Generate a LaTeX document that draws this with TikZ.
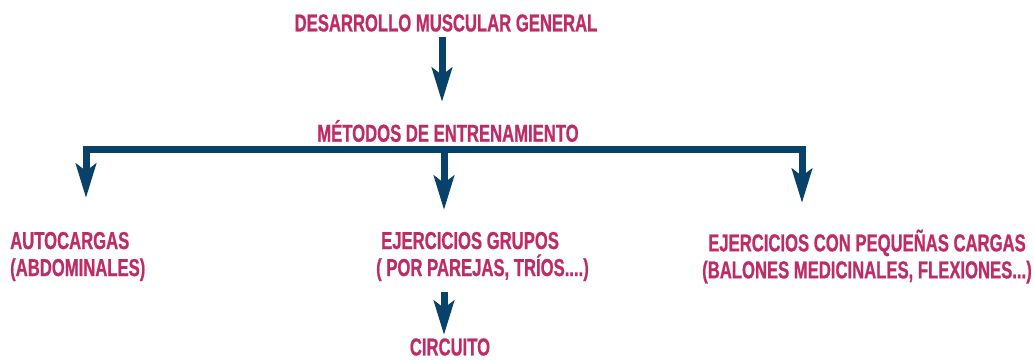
\documentclass[tikz,border=0pt]{standalone}
\usepackage{fontspec}
\newfontfamily\negrita{Liberation Sans}[UprightFont=* Bold,FakeStretch=0.68,FakeBold=0.8]
\usepackage{xcolor}
\usetikzlibrary{arrows.meta,positioning}
\definecolor{rosa}{RGB}{190,44,103}
\definecolor{azul}{RGB}{8,66,106}
\tikzset{
	titulo/.style={text=rosa,font=\negrita\fontsize{24.5}{27}\selectfont,inner sep=0pt},
	flecha/.style={draw=azul,line width=7pt,-{Stealth[length=34pt,width=20pt,inset=7pt]}},
	barra/.style={draw=azul,line width=7pt}
}
\begin{document}
\begin{tikzpicture}[x=1pt,y=-1pt]
		\useasboundingbox (0,0) rectangle (1034,361);
		% textos
		\node[titulo] (gen) at (446,23) {DESARROLLO MUSCULAR GENERAL};
		\node[titulo] (met) at (448,131) {MÉTODOS DE ENTRENAMIENTO};
		\node[titulo,anchor=west,align=left] (auto) at (10,256.5) {AUTOCARGAS\\(ABDOMINALES)};
		\node[titulo,anchor=west,align=left] (grupos) at (376,256.5) {\hspace{5pt}EJERCICIOS GRUPOS\\( POR PAREJAS, TRÍOS....)};
		\node[titulo,align=center] (cargas) at (867,256.5) {EJERCICIOS CON PEQUEÑAS CARGAS\\(BALONES MEDICINALES, FLEXIONES...)};
		\node[titulo] (circ) at (450,347) {CIRCUITO};
		% puntos de la barra
		\coordinate (bizq) at (86,146);
		\coordinate (bmed) at (444,149);
		\coordinate (bder) at (802,149);
		\coordinate (t0) at (442,102);
		\coordinate (t1) at (86,198);
		\coordinate (t2) at (444,210);
		\coordinate (t3) at (802,203);
		\coordinate (t4) at (444,335);
		% flechas
		\draw[flecha] ([yshift=-5pt]gen.south -| t0) -- (t0);
		\draw[barra] (82.5,149) -- (805.5,149);
		\draw[flecha] (bizq) -- (t1);
		\draw[flecha] (bmed) -- (t2);
		\draw[flecha] (bder) -- (t3);
		\draw[flecha] ([yshift=-11pt]grupos.south -| t4) -- (t4);
	\end{tikzpicture}
\end{document}
